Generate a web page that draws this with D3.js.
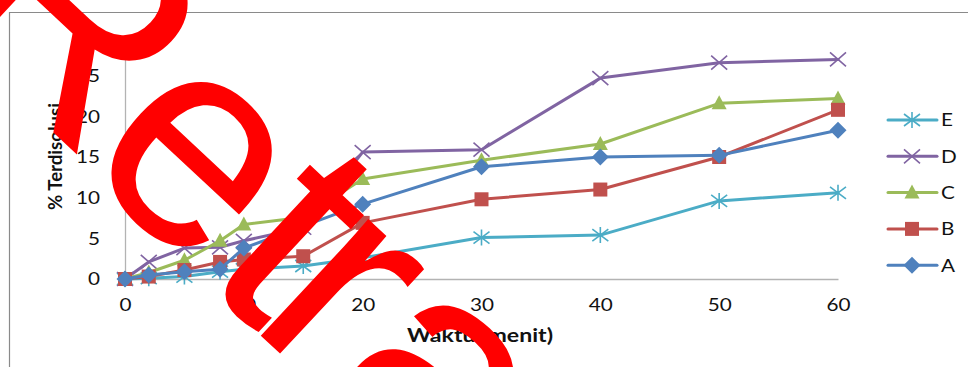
<!DOCTYPE html>
<html>
<head>
<meta charset="utf-8">
<script src="https://cdn.jsdelivr.net/npm/d3@7"></script>
<style>
  body { margin: 0; background: #fff; }
  svg { display: block; }
</style>
</head>
<body>
<svg id="chart" width="968" height="367"></svg>
<script>
// Sampling times (minutes)
const times = [0, 2, 5, 8, 10, 15, 20, 30, 40, 50, 60];

// Percent dissolved per formula
const seriesA = [0, 0.5, 0.9, 1.2, 3.8, 6.5, 9.2, 13.8, 15.0, 15.2, 18.3];
const seriesB = [0, 0.3, 1.1, 2.1, 2.4, 2.8, 6.9, 9.8, 11.0, 15.0, 20.8];
const seriesC = [0, 0.8, 2.3, 4.7, 6.7, 7.6, 12.3, 14.6, 16.6, 21.6, 22.2];
const seriesD = [0, 2.1, 3.8, 3.9, 4.7, 6.3, 15.6, 15.9, 24.7, 26.6, 27.0];
const seriesE = [0, 0.1, 0.3, 0.9, 1.2, 1.6, 2.6, 5.1, 5.4, 9.6, 10.6];

// Plot / legend order
const seriesNames = ["E", "D", "C", "B", "A"];
const xTicks = [0, 10, 20, 30, 40, 50, 60];
const yTicks = [0, 5, 10, 15, 20, 25, 30];
const xTitle = "Waktu (menit)";
const yTitle = "% Terdisolusi";
const stampText = "Retracted";

const valuesByName = { A: seriesA, B: seriesB, C: seriesC, D: seriesD, E: seriesE };
const colorByName = { A: "#4F81BD", B: "#C0504D", C: "#9BBB59", D: "#8064A2", E: "#4BACC6" };
const markerByName = { A: "diamond", B: "square", C: "triangle", D: "x", E: "asterisk" };

const svg = d3.select("#chart");
const font = "Lato, 'Open Sans', sans-serif";
const textColor = "#111";
const labelSize = 18;
const widen = 1.15;   // labels are set a little wide

svg.append("rect").attr("width", 968).attr("height", 367).attr("fill", "#fff");

// chart frame
svg.append("path")
  .attr("d", "M9.5,367 V12.5 H968")
  .attr("fill", "none")
  .attr("stroke", "#8a8a8a")
  .attr("stroke-width", 1.2);

const x = d3.scaleLinear().domain([0, 60]).range([125, 838]);
const y = d3.scaleLinear().domain([0, 30]).range([279, 35]);

// axes
const gy = svg.append("g").attr("transform", "translate(125,0)")
  .call(d3.axisLeft(y).tickValues(yTicks).tickSize(0).tickSizeOuter(0).tickPadding(25));
const gx = svg.append("g").attr("transform", "translate(0,279)")
  .call(d3.axisBottom(x).tickValues(xTicks).tickSize(0).tickSizeOuter(0).tickPadding(19));
[gx, gy].forEach(g => {
  g.select(".domain").attr("stroke", "#b3b3b3").attr("stroke-width", 1.3);
  g.selectAll("text").attr("font-family", font).attr("font-size", labelSize).attr("fill", textColor);
});
gx.selectAll(".tick text").attr("transform", `scale(${widen},1)`);
gy.selectAll(".tick text")
  .attr("x", -25 / widen)
  .attr("transform", `scale(${widen},1)`);

// axis titles
svg.append("text")
  .attr("x", 407).attr("y", 342)
  .attr("textLength", 146).attr("lengthAdjust", "spacingAndGlyphs")
  .attr("font-family", font).attr("font-weight", "bold").attr("font-size", labelSize)
  .attr("fill", textColor)
  .text(xTitle);
svg.append("text")
  .attr("transform", "translate(62,210) rotate(-90)")
  .attr("textLength", 107).attr("lengthAdjust", "spacingAndGlyphs")
  .attr("font-family", font).attr("font-weight", "bold").attr("font-size", labelSize)
  .attr("fill", textColor)
  .text(yTitle);

// marker shapes
function drawMarker(g, kind, color) {
  if (kind === "diamond") {
    g.append("path").attr("d", "M0,-8.5 L8.5,0 L0,8.5 L-8.5,0 Z").attr("fill", color);
  } else if (kind === "square") {
    g.append("rect").attr("x", -7).attr("y", -7).attr("width", 14).attr("height", 14).attr("fill", color);
  } else if (kind === "triangle") {
    g.append("path").attr("d", "M0,-8 L7.5,6 L-7.5,6 Z").attr("fill", color);
  } else if (kind === "x") {
    g.append("path").attr("d", "M-8,-7 L8,7 M-8,7 L8,-7")
      .attr("stroke", color).attr("stroke-width", 1.6).attr("fill", "none");
  } else if (kind === "asterisk") {
    g.append("path").attr("d", "M-8,-6 L8,6 M-8,6 L8,-6 M0,-8 L0,8")
      .attr("stroke", color).attr("stroke-width", 1.6).attr("fill", "none");
  }
}

const line = d3.line().x(d => x(d[0])).y(d => y(d[1]));

seriesNames.forEach(name => {
  const pts = times.map((t, i) => [t, valuesByName[name][i]]);
  const color = colorByName[name];
  const g = svg.append("g").attr("class", "series-" + name);
  g.append("path")
    .datum(pts)
    .attr("d", line)
    .attr("fill", "none")
    .attr("stroke", color)
    .attr("stroke-width", 3)
    .attr("stroke-linejoin", "round")
    .attr("stroke-linecap", "round");
  pts.forEach(p => {
    const m = g.append("g").attr("transform", `translate(${x(p[0])},${y(p[1])})`);
    drawMarker(m, markerByName[name], color);
  });
});

// legend
const legend = svg.append("g");
seriesNames.forEach((name, i) => {
  const cy = 120 + i * 36.3;
  const color = colorByName[name];
  const row = legend.append("g").attr("transform", `translate(0,${cy})`);
  row.append("line").attr("x1", 888).attr("x2", 937).attr("y1", 0).attr("y2", 0)
    .attr("stroke", color).attr("stroke-width", 3).attr("stroke-linecap", "round");
  const m = row.append("g").attr("transform", "translate(912,0)");
  drawMarker(m, markerByName[name], color);
  row.append("text")
    .attr("transform", `translate(941,0) scale(${widen},1)`)
    .attr("dy", "0.36em")
    .attr("font-family", font).attr("font-size", labelSize).attr("fill", textColor)
    .text(name);
});

// stamp across the chart, with a little per-letter kerning
svg.append("text")
  .attr("transform", "translate(-82,16) rotate(43)")
  .attr("font-family", "'Liberation Sans', Arial, sans-serif")
  .attr("font-size", 300)
  .attr("dx", "8 -8 0 -19")
  .attr("dy", "-7 7")
  .attr("fill", "#ff0000")
  .text(stampText);
</script>
</body>
</html>
